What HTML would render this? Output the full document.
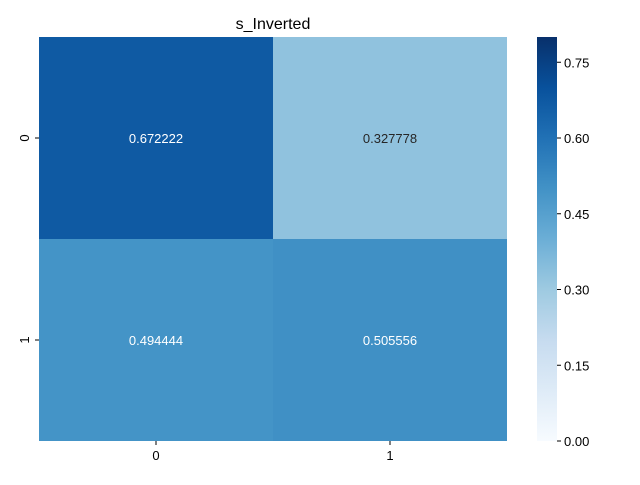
<!DOCTYPE html>
<html><head><meta charset="utf-8"><style>
body{margin:0;background:#fff;}
svg{font-family:"Liberation Sans","DejaVu Sans",sans-serif;}
</style></head><body>
<svg id="chart" width="640" height="480">
<defs><linearGradient id="blues" x1="0" y1="1" x2="0" y2="0">
<stop offset="0" stop-color="#f7fbff"/><stop offset="0.125" stop-color="#deebf7"/><stop offset="0.25" stop-color="#c6dbef"/><stop offset="0.375" stop-color="#9ecae1"/><stop offset="0.5" stop-color="#6baed6"/><stop offset="0.625" stop-color="#4292c6"/><stop offset="0.75" stop-color="#2171b5"/><stop offset="0.875" stop-color="#08519c"/><stop offset="1" stop-color="#08306b"/>
</linearGradient></defs>
<text x="273" y="29" text-anchor="middle" font-size="16" fill="#000">s_Inverted</text>
<g id="cells"></g>
<rect x="537" y="37" width="20" height="404" fill="url(#blues)"/>
<g id="cbticks"></g>
</svg>
<script>
const xLabels=["0","1"];
const yLabels=["0","1"];
const row0=[0.672222,0.327778];
const row1=[0.494444,0.505556];
const cbTicks=[0,0.15,0.30,0.45,0.60,0.75];
const vmin=0, vmax=0.8;
const stops=["#f7fbff","#deebf7","#c6dbef","#9ecae1","#6baed6","#4292c6","#2171b5","#08519c","#08306b"];
function hex(h){return [1,3,5].map(i=>parseInt(h.substr(i,2),16));}
function cmap(v){let t=Math.max(0,Math.min(1,(v-vmin)/(vmax-vmin)))*8;let i=Math.min(7,Math.floor(t));let f=t-i;let a=hex(stops[i]),b=hex(stops[i+1]);return "rgb("+a.map((c,k)=>Math.round(c+(b[k]-c)*f)).join(",")+")";}
const X0=39,X1=507,Y0=37,Y1=441;
const cw=(X1-X0)/xLabels.length, ch=(Y1-Y0)/yLabels.length;
const xs=i=>X0+i*cw, ys=j=>Y0+j*ch;
const cbY=v=>Y1-(v-vmin)/(vmax-vmin)*(Y1-Y0);
const NS="http://www.w3.org/2000/svg";
const svg=document.getElementById('chart');
function mk(t,a,txt){const e=document.createElementNS(NS,t);for(const k in a)e.setAttribute(k,a[k]);if(txt!==undefined)e.textContent=txt;svg.appendChild(e);return e;}
[row0,row1].forEach((row,j)=>{row.forEach((v,i)=>{
 const r=mk('rect',{x:xs(i),y:ys(j),width:cw,height:ch,fill:cmap(v)});
 
 
 const t=mk('text',{x:xs(i)+cw/2,y:ys(j)+ch/2+5,'text-anchor':'middle','font-size':13,fill:(v-vmin)/(vmax-vmin)>0.5?'#fff':'#262626'},v.toFixed(6));
 
 
});});
xLabels.forEach((l,i)=>{
 const x=xs(i)+cw/2;
 const tk=mk('line',{x1:x,x2:x,y1:Y1,y2:Y1+4,stroke:'#000'});
 
 
 const t=mk('text',{x:x,y:Y1+19,'text-anchor':'middle','font-size':13},l);
 
 
});
yLabels.forEach((l,j)=>{
 const y=ys(j)+ch/2;
 const tk=mk('line',{x1:X0-4,x2:X0,y1:y,y2:y,stroke:'#000'});
 
 
 const t=mk('text',{x:0,y:0,'text-anchor':'middle','font-size':13,transform:'translate('+(X0-10)+','+y+') rotate(-90)'},l);
 
 
});
cbTicks.forEach(v=>{
 const y=cbY(v);
 const tk=mk('line',{x1:557,x2:561,y1:y,y2:y,stroke:'#000'});
 
 
 const t=mk('text',{x:564,y:y+5,'font-size':13},v.toFixed(2));
 
 
});
</script>
</body></html>
